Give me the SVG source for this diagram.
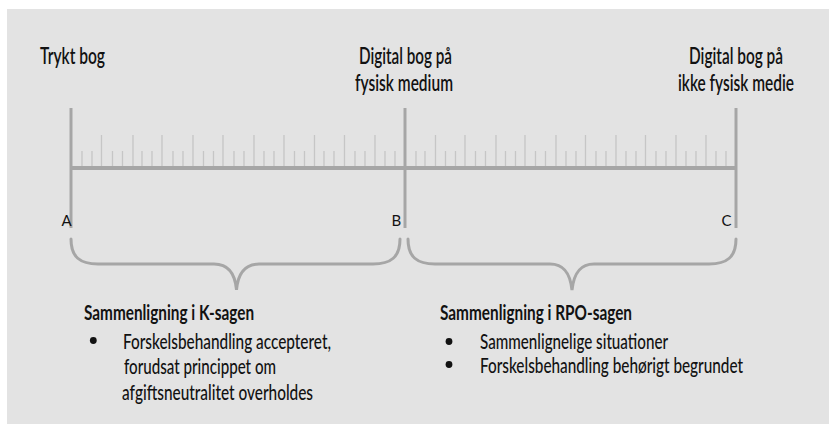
<svg xmlns="http://www.w3.org/2000/svg" width="831" height="424" viewBox="0 0 831 424">
  <style>
    .bg { fill: #e3e3e3; }
    .axis { stroke: #a6a6a6; stroke-width: 3; fill: none; }
    .base { stroke: #a6a6a6; stroke-width: 4; fill: none; }
    .tick { stroke: #c6c6c6; stroke-width: 1.3; fill: none; }
    .brace { stroke: #a6a6a6; stroke-width: 3; fill: none; stroke-linecap: round; }
    text { font-family: Lato, "Liberation Sans", sans-serif; fill: #121212; }
    .top { font-size: 23.5px; font-weight: 600; text-anchor: middle; }
    .lbl { font-size: 15px; }
    .head { font-size: 21px; font-weight: 700; }
    .item { font-size: 22px; font-weight: 500; }
  </style>
  <rect class="bg" x="7" y="9" width="822" height="415"/>

  <g id="ruler">
    <path class="tick" d="M82,151V166M92,151V166M112.5,151V166M122.5,151V166M142,151V166M152,151V166M173,151V166M183,151V166M203.5,151V166M213.5,151V166M234,151V166M244,151V166M264,151V166M274,151V166M294.5,151V166M304.5,151V166M324,151V166M334,151V166M355,151V166M365,151V166M385,151V166M395,151V166"/>
    <path class="tick" d="M101.5,135V166M133,135V166M162,135V166M193,135V166M223,135V166M254,135V166M284,135V166M314.5,135V166M344.5,135V166M375,135V166"/>
    <path class="tick" d="M416,151V166M425,151V166M445.5,151V166M455.5,151V166M475.5,151V166M485.5,151V166M505.5,151V166M515.5,151V166M535.5,151V166M545.5,151V166M566,151V166M576,151V166M596,151V166M606,151V166M626,151V166M636,151V166M656,151V166M666,151V166M686,151V166M696,151V166M716,151V166M726,151V166"/>
    <path class="tick" d="M435.5,135V166M465,135V166M496,135V166M525,135V166M556,135V166M585.5,135V166M616,135V166M645.5,135V166M676,135V166M706,135V166"/>
    <line class="base" x1="71" y1="168" x2="736" y2="168"/>
  </g>

  <g id="node-a">
    <line class="axis" x1="71" y1="108" x2="71" y2="228"/>
    <text class="top" transform="translate(72.5,63.5) scale(0.75,1)" textLength="86.7" lengthAdjust="spacingAndGlyphs">Trykt bog</text>
    <text class="lbl" x="61.5" y="226">A</text>
  </g>
  <g id="node-b">
    <line class="axis" x1="405" y1="108" x2="405" y2="228"/>
    <text class="top" transform="translate(405.5,63.5) scale(0.75,1)" textLength="124" lengthAdjust="spacingAndGlyphs">Digital bog på</text>
    <text class="top" transform="translate(404,90.5) scale(0.75,1)" textLength="130.7" lengthAdjust="spacingAndGlyphs">fysisk medium</text>
    <text class="lbl" x="391.5" y="226">B</text>
  </g>
  <g id="node-c">
    <line class="axis" x1="736" y1="108" x2="736" y2="228"/>
    <text class="top" transform="translate(736,63.5) scale(0.75,1)" textLength="125.3" lengthAdjust="spacingAndGlyphs">Digital bog på</text>
    <text class="top" transform="translate(736,90.5) scale(0.75,1)" textLength="154.7" lengthAdjust="spacingAndGlyphs">ikke fysisk medie</text>
    <text class="lbl" x="721.5" y="226">C</text>
  </g>

  <g id="connectors">
    <path class="brace" d="M71,239 C71,257 80,264 98,264 L214,264 C227,264 235,272 236.5,290 C238,272 246,264 259,264 L373,264 C391,264 400,257 400,239"/>
    <path class="brace" d="M408,239 C408,257 417,264 435,264 L550,264 C563,264 570,272 572,290 C574,272 581,264 594,264 L709,264 C727,264 736,257 736,239"/>
  </g>

  <g id="k-sagen">
    <text class="head" transform="translate(84,320) scale(0.75,1)" textLength="226.7" lengthAdjust="spacingAndGlyphs">Sammenligning i K-sagen</text>
    <circle cx="93.3" cy="340.5" r="3.4" fill="#121212"/>
    <text class="item" transform="translate(123,348.5) scale(0.75,1)" textLength="277.3" lengthAdjust="spacingAndGlyphs">Forskelsbehandling accepteret,</text>
    <text class="item" transform="translate(124,374) scale(0.75,1)" textLength="202.7" lengthAdjust="spacingAndGlyphs">forudsat princippet om</text>
    <text class="item" transform="translate(122,399.5) scale(0.75,1)" textLength="254.7" lengthAdjust="spacingAndGlyphs">afgiftsneutralitet overholdes</text>
  </g>

  <g id="rpo-sagen">
    <text class="head" transform="translate(440,320) scale(0.75,1)" textLength="256" lengthAdjust="spacingAndGlyphs">Sammenligning i RPO-sagen</text>
    <circle cx="449" cy="341.5" r="3.4" fill="#121212"/>
    <text class="item" transform="translate(480,348.5) scale(0.75,1)" textLength="250.7" lengthAdjust="spacingAndGlyphs">Sammenlignelige situationer</text>
    <circle cx="449" cy="364.5" r="3.4" fill="#121212"/>
    <text class="item" transform="translate(480,372.5) scale(0.75,1)" textLength="350.7" lengthAdjust="spacingAndGlyphs">Forskelsbehandling behørigt begrundet</text>
  </g>
</svg>
